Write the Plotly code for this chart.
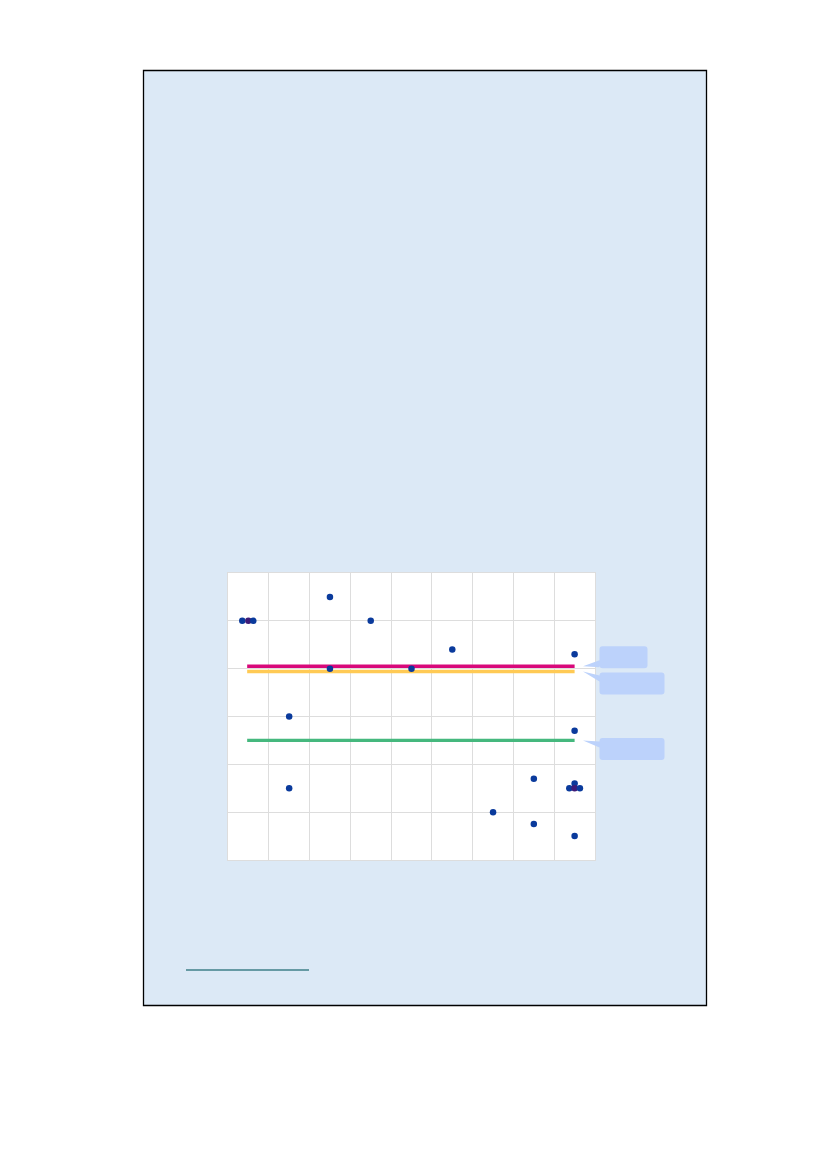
import plotly.graph_objects as go

# points (x = column position, y = value)
pts_x = [0.35, 0.5, 0.62, 1.5, 1.5, 2.5, 2.5, 3.5, 4.5, 5.5, 6.5, 7.5, 7.5,
         8.5, 8.5, 8.5, 8.37, 8.5, 8.63, 8.5]
pts_y = [5.0, 5.0, 5.0, 3.0, 1.5, 5.5, 4.0, 5.0, 4.0, 4.4, 1.0, 1.7, 0.75,
         4.3, 2.7, 1.6, 1.5, 1.5, 1.5, 0.5]
pts_col = ['#0a3a9c', '#3e1b78', '#0a3a9c', '#0a3a9c', '#0a3a9c', '#0a3a9c',
           '#0a3a9c', '#0a3a9c', '#0a3a9c', '#0a3a9c', '#0a3a9c', '#0a3a9c',
           '#0a3a9c', '#0a3a9c', '#0a3a9c', '#0a3a9c', '#0a3a9c', '#3e1b78',
           '#0a3a9c', '#0a3a9c']

# reference lines
ref_vals = [4.05, 3.94, 2.5]
ref_cols = ['#d8087a', '#ffca55', '#45b87e']
ref_x = [0.47, 8.5]
# callout box widths (px)
call_w = [48, 65, 65]

# the page body has an 8px margin, so the figure is drawn a bit smaller
OFF = 8
W, H = 827 - OFF, 1169 - OFF


def px(x):
    return (x - OFF) / W


def py(y):
    return 1 - (y - OFF) / H


xdom = [px(228), px(595)]
ydom = [py(860), py(573)]


def ypix(v):
    # data value -> pixel row
    return 860 - v / 6 * (860 - 573)


fig = go.Figure()

for v, c in zip(ref_vals, ref_cols):
    fig.add_trace(go.Scatter(x=ref_x, y=[v, v], mode='lines',
                             line=dict(color=c, width=3.4),
                             hoverinfo='skip', showlegend=False))

fig.add_trace(go.Scatter(x=pts_x, y=pts_y, mode='markers',
                         marker=dict(color=pts_col, size=6.5),
                         showlegend=False))

shapes = []
# page box
shapes.append(dict(type='rect', xref='paper', yref='paper', layer='below',
                   x0=px(143.5), x1=px(706.5), y0=py(1005.5), y1=py(70.5),
                   fillcolor='#dce9f6', line=dict(color='black', width=1.3)))
# white plot area
shapes.append(dict(type='rect', xref='paper', yref='paper', layer='below',
                   x0=xdom[0], x1=xdom[1], y0=ydom[0], y1=ydom[1],
                   fillcolor='white', line=dict(width=0)))

# callouts: (top offset from tip, wedge start, wedge end) in px
geo = [(-20, -6, 1), (1, 4, 10), (-2.5, 1, 7)]
for v, w, (dtop, dw0, dw1) in zip(ref_vals, call_w, geo):
    tip_y = ypix(v)
    tip_x = 583
    top = tip_y + dtop
    bot = top + 22
    left = 599.5
    right = left + w
    r = 3
    wy0 = tip_y + dw0
    wy1 = tip_y + dw1
    path = (f"M {px(left + r)},{py(top)} L {px(right - r)},{py(top)} "
            f"Q {px(right)},{py(top)} {px(right)},{py(top + r)} "
            f"L {px(right)},{py(bot - r)} "
            f"Q {px(right)},{py(bot)} {px(right - r)},{py(bot)} "
            f"L {px(left + r)},{py(bot)} "
            f"Q {px(left)},{py(bot)} {px(left)},{py(bot - r)} "
            f"L {px(left)},{py(wy1)} L {px(tip_x)},{py(tip_y)} "
            f"L {px(left)},{py(wy0)} "
            f"L {px(left)},{py(top + r)} "
            f"Q {px(left)},{py(top)} {px(left + r)},{py(top)} Z")
    shapes.append(dict(type='path', xref='paper', yref='paper', path=path,
                       fillcolor='#bcd2fb', line=dict(width=0), layer='above'))

# underline near bottom
shapes.append(dict(type='line', xref='paper', yref='paper',
                   x0=px(186), x1=px(309), y0=py(970), y1=py(970),
                   line=dict(color='#3f7f88', width=1.4)))

fig.update_layout(
    width=W, height=H,
    margin=dict(l=0, r=0, t=0, b=0),
    paper_bgcolor='white',
    plot_bgcolor='rgba(0,0,0,0)',
    shapes=shapes,
    xaxis=dict(domain=xdom, range=[0, 9], dtick=1, showticklabels=False,
               showgrid=True, gridcolor='#dddddd', gridwidth=1,
               zeroline=False, showline=True, mirror=True,
               linecolor='#dddddd', linewidth=1, fixedrange=True),
    yaxis=dict(domain=ydom, range=[0, 6], dtick=1, showticklabels=False,
               showgrid=True, gridcolor='#dddddd', gridwidth=1,
               zeroline=False, showline=True, mirror=True,
               linecolor='#dddddd', linewidth=1, fixedrange=True),
    showlegend=False,
)

fig.write_html("out.html")
